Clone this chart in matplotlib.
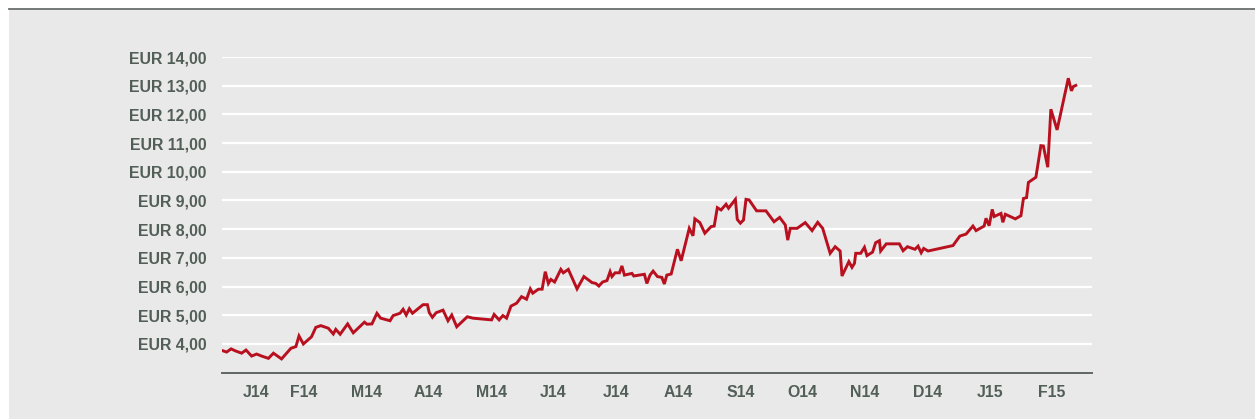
import matplotlib
matplotlib.use("Agg")
import matplotlib.pyplot as plt
from matplotlib.patches import Rectangle
from matplotlib.lines import Line2D

# x: months since 1 Jan 2014 (fractional), y: share price in EUR
months = [0.19, 0.26, 0.33, 0.40, 0.50, 0.57, 0.66, 0.74, 0.82, 0.93,
          1.01, 1.14, 1.29, 1.37, 1.42, 1.49, 1.62, 1.69, 1.77, 1.89,
          1.97, 2.01, 2.08, 2.20, 2.29, 2.47, 2.51, 2.59, 2.67, 2.73,
          2.88, 2.93, 3.04, 3.09, 3.14, 3.19, 3.24, 3.41, 3.48, 3.51,
          3.56, 3.62, 3.73, 3.81, 3.87, 3.95, 4.12, 4.21, 4.51, 4.55,
          4.63, 4.69, 4.75, 4.82, 4.91, 4.99, 5.07, 5.13, 5.17, 5.26,
          5.32, 5.37, 5.42, 5.46, 5.52, 5.62, 5.66, 5.74, 5.88, 5.99,
          6.12, 6.18, 6.23, 6.29, 6.36, 6.41, 6.44, 6.49, 6.56, 6.60,
          6.64, 6.76, 6.79, 6.96, 7.00, 7.05, 7.10, 7.17, 7.24, 7.28,
          7.32, 7.39, 7.49, 7.55, 7.68, 7.74, 7.77, 7.85, 7.93, 8.03,
          8.08, 8.13, 8.19, 8.27, 8.31, 8.42, 8.45, 8.50, 8.55, 8.59,
          8.64, 8.76, 8.91, 9.04, 9.13, 9.22, 9.26, 9.30, 9.41, 9.54,
          9.65, 9.74, 9.82, 9.94, 10.02, 10.10, 10.13, 10.24, 10.29, 10.33,
          10.35, 10.43, 10.49, 10.53, 10.62, 10.67, 10.73, 10.75, 10.84, 11.05,
          11.11, 11.18, 11.30, 11.35, 11.40, 11.44, 11.51, 11.91, 12.02, 12.12,
          12.23, 12.28, 12.41, 12.44, 12.49, 12.54, 12.57, 12.68, 12.71, 12.75,
          12.91, 13.00, 13.04, 13.09, 13.12, 13.24, 13.32, 13.36, 13.43, 13.48,
          13.58, 13.76, 13.81, 13.84, 13.88]
price = [3.77, 3.72, 3.83, 3.76, 3.68, 3.79, 3.58, 3.65, 3.58, 3.50,
         3.68, 3.48, 3.85, 3.91, 4.28, 4.00, 4.25, 4.58, 4.64, 4.55,
         4.35, 4.51, 4.34, 4.70, 4.39, 4.76, 4.69, 4.70, 5.07, 4.90,
         4.81, 4.99, 5.07, 5.21, 5.01, 5.23, 5.07, 5.37, 5.37, 5.09,
         4.93, 5.09, 5.18, 4.81, 5.01, 4.60, 4.95, 4.90, 4.84, 5.03,
         4.84, 4.99, 4.90, 5.32, 5.42, 5.65, 5.56, 5.92, 5.77, 5.91,
         5.91, 6.52, 6.11, 6.25, 6.16, 6.60, 6.48, 6.60, 5.92, 6.35,
         6.14, 6.11, 6.02, 6.16, 6.21, 6.52, 6.35, 6.48, 6.48, 6.72,
         6.40, 6.46, 6.37, 6.43, 6.11, 6.40, 6.54, 6.35, 6.32, 6.09,
         6.40, 6.44, 7.30, 6.90, 8.03, 7.77, 8.36, 8.23, 7.86, 8.09,
         8.11, 8.75, 8.67, 8.87, 8.73, 9.04, 8.34, 8.21, 8.32, 9.04,
         9.02, 8.64, 8.64, 8.26, 8.41, 8.15, 7.62, 8.03, 8.03, 8.23,
         7.95, 8.24, 8.03, 7.16, 7.39, 7.24, 6.37, 6.87, 6.67, 6.81,
         7.16, 7.16, 7.37, 7.08, 7.20, 7.53, 7.60, 7.24, 7.49, 7.49,
         7.25, 7.39, 7.30, 7.41, 7.18, 7.33, 7.24, 7.43, 7.76, 7.83,
         8.11, 7.95, 8.11, 8.38, 8.12, 8.69, 8.44, 8.55, 8.24, 8.52,
         8.36, 8.47, 9.07, 9.10, 9.63, 9.81, 10.91, 10.90, 10.16, 12.18,
         11.46, 13.26, 12.82, 12.97, 13.01]

month_labels = ["J14", "F14", "M14", "A14", "M14", "J14", "J14", "A14",
                "S14", "O14", "N14", "D14", "J15", "F15"]
month_label_pos = [0.73, 1.5, 2.5, 3.5, 4.5, 5.5, 6.5, 7.5,
                   8.5, 9.5, 10.5, 11.5, 12.5, 13.5]
y_ticks = [4, 5, 6, 7, 8, 9, 10, 11, 12, 13, 14]
y_tick_labels = ["EUR %d,00" % v for v in y_ticks]

TEXT = "#525e58"
BG = "#e8e9e8"
RED = "#b8101f"

plt.rcParams['font.family'] = ['Liberation Sans', 'DejaVu Sans']

W, H = 1255, 419
fig = plt.figure(figsize=(W / 100, H / 100), dpi=100, facecolor="white")

# grey panel and top rule
fig.patches.append(Rectangle((9 / W, 0), 1 - 9 / W, 1 - 9 / H, transform=fig.transFigure,
                             facecolor=BG, edgecolor="none", zorder=-10))
fig.lines.append(Line2D([9 / W, 1], [1 - 9.5 / H, 1 - 9.5 / H], transform=fig.transFigure,
                        color="#6a706d", linewidth=1.3, zorder=-9))

ax = fig.add_axes([222 / W, (H - 372.7) / H, 870 / W, (372.7 - 57) / H])
ax.set_zorder(5)
ax.set_facecolor("none")
ax.set_xlim(0.185, 14.14)
ax.set_ylim(3, 14)

ax.set_yticks(y_ticks)
ax.set_yticklabels(y_tick_labels)
ax.set_xticks(month_label_pos)
ax.set_xticklabels(month_labels)

ax.grid(axis="y", color="white", linewidth=1.6)
ax.set_axisbelow(True)
for s in ["top", "right", "left"]:
    ax.spines[s].set_visible(False)
ax.spines["bottom"].set_color("#5f6663")
ax.spines["bottom"].set_linewidth(1.4)

ax.tick_params(axis="both", length=0, labelcolor=TEXT, labelsize=11.4)
ax.tick_params(axis="y", pad=11)
ax.tick_params(axis="x", pad=9)
for lab in ax.get_xticklabels() + ax.get_yticklabels():
    lab.set_fontweight("bold")

ax.plot(months, price, color=RED, linewidth=2.1, solid_joinstyle="miter", zorder=3)

fig.savefig("out.png", dpi=100, facecolor="white")
